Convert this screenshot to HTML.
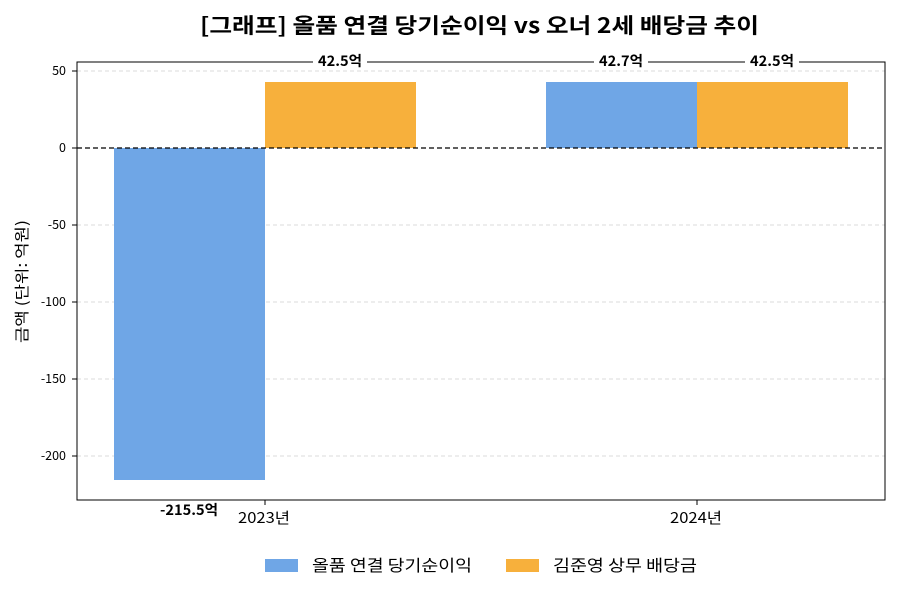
<!DOCTYPE html>
<html><head><meta charset="utf-8"><style>body{margin:0;background:#fff}svg{display:block}</style></head><body>
<svg width="900" height="600" xmlns="http://www.w3.org/2000/svg" font-family="'Noto Sans CJK KR','Liberation Sans',sans-serif">
<text x="200" y="33" font-size="21" font-weight="bold" textLength="559" lengthAdjust="spacingAndGlyphs">[그래프] 올품 연결 당기순이익 vs 오너 2세 배당금 추이</text>
<g stroke="#d0d0d0" stroke-dasharray="4,3" stroke-width="0.8">
<line x1="77" x2="885" y1="71" y2="71"/><line x1="77" x2="885" y1="225" y2="225"/><line x1="77" x2="885" y1="302" y2="302"/><line x1="77" x2="885" y1="379" y2="379"/><line x1="77" x2="885" y1="456" y2="456"/>
</g>
<rect x="114" y="148" width="151" height="332" fill="#6fa6e6"/>
<rect x="265" y="82" width="151" height="66" fill="#f7b03c"/>
<rect x="546" y="82" width="151" height="66" fill="#6fa6e6"/>
<rect x="697" y="82" width="151" height="66" fill="#f7b03c"/>
<line x1="77" x2="885" y1="148" y2="148" stroke="#000" stroke-dasharray="5,3" stroke-width="1.3"/>
<rect x="77" y="62" width="808" height="438" fill="none" stroke="#000" stroke-width="1"/>
<g font-size="12.5" text-anchor="end">
<text x="66" y="75">50</text><text x="66" y="152">0</text><text x="66" y="229">-50</text><text x="66" y="306">-100</text><text x="66" y="383">-150</text><text x="66" y="460">-200</text>
</g>
<g stroke="#000"><line x1="72" x2="77" y1="71" y2="71"/><line x1="72" x2="77" y1="148" y2="148"/><line x1="72" x2="77" y1="225" y2="225"/><line x1="72" x2="77" y1="302" y2="302"/><line x1="72" x2="77" y1="379" y2="379"/><line x1="72" x2="77" y1="456" y2="456"/><line x1="265" x2="265" y1="500" y2="505"/><line x1="697" x2="697" y1="500" y2="505"/></g>
<text x="238" y="523" font-size="15" textLength="52" lengthAdjust="spacingAndGlyphs">2023년</text>
<text x="670" y="523" font-size="15" textLength="52" lengthAdjust="spacingAndGlyphs">2024년</text>
<text x="27" y="343" font-size="15" transform="rotate(-90 27 343)" textLength="123" lengthAdjust="spacingAndGlyphs">금액 (단위: 억원)</text>
<g font-size="14" font-weight="bold">
<rect x="313" y="52" width="54" height="18" fill="#fff"/><text x="318" y="66" textLength="44" lengthAdjust="spacingAndGlyphs">42.5억</text>
<rect x="594" y="52" width="54" height="18" fill="#fff"/><text x="599" y="66" textLength="44" lengthAdjust="spacingAndGlyphs">42.7억</text>
<rect x="745" y="52" width="54" height="18" fill="#fff"/><text x="750" y="66" textLength="44" lengthAdjust="spacingAndGlyphs">42.5억</text>
<text x="160" y="515" textLength="58" lengthAdjust="spacingAndGlyphs">-215.5억</text>
</g>
<rect x="265" y="559" width="33" height="13" fill="#6fa6e6"/>
<text x="312" y="571" font-size="16" textLength="160" lengthAdjust="spacingAndGlyphs">올품 연결 당기순이익</text>
<rect x="506" y="559" width="33" height="13" fill="#f7b03c"/>
<text x="553" y="571" font-size="16" textLength="144" lengthAdjust="spacingAndGlyphs">김준영 상무 배당금</text>
</svg>
</body></html>
